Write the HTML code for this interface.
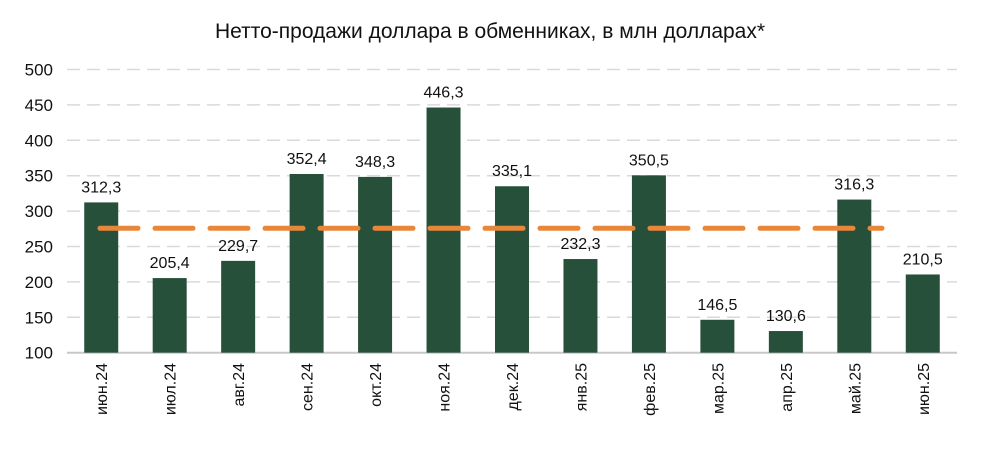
<!DOCTYPE html>
<html><head><meta charset="utf-8"><style>
body{margin:0;background:#fff;}
svg text{font-family:"Liberation Sans","DejaVu Sans",sans-serif;fill:#111;}
</style></head><body>
<svg width="981" height="446" viewBox="0 0 981 446" xmlns="http://www.w3.org/2000/svg">
<text x="490" y="38" text-anchor="middle" font-size="21">Нетто-продажи доллара в обменниках, в млн долларах*</text>
<g id="grid"></g><g id="bars"></g><g id="avg"></g><g id="labels"></g>
</svg>
<script>
const categories=["июн.24","июл.24","авг.24","сен.24","окт.24","ноя.24","дек.24","янв.25","фев.25","мар.25","апр.25","май.25","июн.25"];
const values=[312.3,205.4,229.7,352.4,348.3,446.3,335.1,232.3,350.5,146.5,130.6,316.3,210.5];
const valueLabels=["312,3","205,4","229,7","352,4","348,3","446,3","335,1","232,3","350,5","146,5","130,6","316,3","210,5"];
const yTicks=[100,150,200,250,300,350,400,450,500];
const average=[275.7];
const NS="http://www.w3.org/2000/svg";
const x0=67,x1=957,band=(x1-x0)/categories.length,bw=34;
function y(v){return 352.7-(v-100)*0.708;}
function xc(i){return x0+band*(i+0.5);}
function mk(t,a,p){const e=document.createElementNS(NS,t);for(const k in a)e.setAttribute(k,a[k]);p.appendChild(e);return e;}
const g=document.getElementById('grid'),b=document.getElementById('bars'),av=document.getElementById('avg'),lb=document.getElementById('labels');
yTicks.forEach(t=>{
 const l=mk('line',{x1:x0,x2:x1,y1:y(t),y2:y(t),stroke:t===100?'#c8c8c8':'#d9d9d9','stroke-width':t===100?2:1.5,'stroke-dasharray':t===100?'none':'13 7'},g);
 
 
 const tx=mk('text',{x:53,y:y(t)+6,'text-anchor':'end','font-size':17},g);tx.textContent=t;
 
 
});
values.forEach((v,i)=>{
 const r=mk('rect',{x:xc(i)-bw/2,y:y(v),width:bw,height:y(100)-y(v),fill:'#27503a'},b);
 
 
 const t=mk('text',{x:xc(i),y:y(v)-10,'text-anchor':'middle','font-size':16},lb);t.textContent=valueLabels[i];
 
 
 const c=mk('text',{x:0,y:0,'text-anchor':'end','font-size':16,transform:`translate(${xc(i)+6},363) rotate(-90)`},lb);c.textContent=categories[i];
 
 
});
const al=mk('line',{x1:100,x2:882,y1:y(average[0]),y2:y(average[0]),stroke:'#e8873a','stroke-width':5,'stroke-dasharray':'38 17','stroke-linecap':'round'},av);


</script>
</body></html>
